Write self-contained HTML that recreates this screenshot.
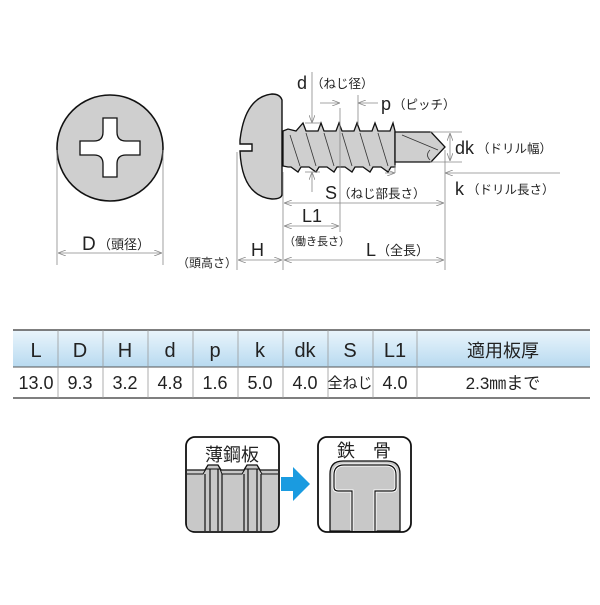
<!DOCTYPE html>
<html><head><meta charset="utf-8"><style>
body{margin:0;background:#fff}
svg text{font-family:"Liberation Sans","Noto Sans CJK JP",sans-serif;fill:#222}
</style></head><body>
<svg width="600" height="600" viewBox="0 0 600 600" xmlns="http://www.w3.org/2000/svg">
<defs>
<marker id="a" markerWidth="8" markerHeight="6" refX="8" refY="3" orient="auto-start-reverse" markerUnits="userSpaceOnUse"><path d="M0,0 L8,3 L0,6" fill="none" stroke="#888" stroke-width="0.8"/></marker>
<linearGradient id="hg" x1="0" y1="0" x2="0" y2="1"><stop offset="0" stop-color="#eaf5fc"/><stop offset="1" stop-color="#b8daf0"/></linearGradient>
</defs>
<circle cx="110" cy="148" r="53" fill="#cfcfcf" stroke="#111" stroke-width="1.6"/>
<path d="M103,118 H117 V132 Q117,141 126,141 H140 V155 H126 Q117,155 117,164 V177 H103 V164 Q103,155 94,155 H80 V141 H94 Q103,141 103,132 Z" fill="#fff" stroke="#111" stroke-width="1.3"/>
<g stroke="#888" stroke-width="0.8" fill="none">
<line x1="57" y1="150" x2="57" y2="265"/><line x1="163" y1="150" x2="163" y2="265"/>
<line x1="58" y1="253" x2="162" y2="253" marker-start="url(#a)" marker-end="url(#a)"/>
</g>
<text x="82" y="250" font-size="19">D</text><text x="98" y="249" font-size="13">（頭径）</text>
<path d="M282,100 Q280,94 272,94 Q245,97 240,140 L240,144 L252,144 L252,151 L240,151 Q242,196 272,199 Q282,199 282,194 Z" fill="#cfcfcf" stroke="#111" stroke-width="1.4"/>
<path d="M283,131 L288,129 L296,131 L303,123 L306,131 L318,131 L321,123 L324,131 L336,131 L339,123 L342,131 L354,131 L357,123 L360,131 L372,131 L375,123 L378,131 L390,131 L393,123 L395,131 L395,167 L391,167 L388,172 L381,167 L373,167 L370,172 L363,167 L355,167 L352,172 L345,167 L337,167 L334,172 L327,167 L319,167 L316,172 L309,167 L301,167 L298,172 L291,167 L288,167 L283,166 Z" fill="#cfcfcf" stroke="#111" stroke-width="1.3"/>
<g stroke="#333" stroke-width="0.8">
<line x1="290" y1="135" x2="300" y2="166"/><line x1="306" y1="133" x2="316" y2="166"/><line x1="324" y1="133" x2="334" y2="166"/><line x1="342" y1="133" x2="352" y2="166"/><line x1="360" y1="133" x2="370" y2="166"/><line x1="378" y1="133" x2="388" y2="166"/>
</g>
<path d="M395,132 L431,132 L445,147 L431,162 L395,162 Z" fill="#cfcfcf" stroke="#111" stroke-width="1.3"/>
<path d="M402,135 L438,150 M430,150 Q425,155 430,160" fill="none" stroke="#333" stroke-width="0.8"/>
<g stroke="#888" stroke-width="0.8" fill="none">
<line x1="237" y1="152" x2="237" y2="270"/>
<line x1="283" y1="172" x2="283" y2="270"/>
<line x1="445" y1="150" x2="445" y2="270"/>
<line x1="340" y1="108" x2="340" y2="232"/>
<line x1="358" y1="95" x2="358" y2="125"/>
<line x1="312" y1="72" x2="312" y2="123" marker-end="url(#a)"/>
<line x1="312" y1="192" x2="312" y2="172" marker-end="url(#a)"/>
<line x1="305" y1="123" x2="320" y2="123"/><line x1="305" y1="172" x2="320" y2="172"/>
<line x1="320" y1="103" x2="340" y2="103" marker-end="url(#a)"/>
<line x1="378" y1="103" x2="358" y2="103" marker-end="url(#a)"/>
<line x1="430" y1="132" x2="462" y2="132"/><line x1="430" y1="162" x2="462" y2="162"/>
<line x1="450" y1="133" x2="450" y2="161" marker-start="url(#a)" marker-end="url(#a)"/>
<line x1="385" y1="173" x2="395" y2="173" marker-end="url(#a)"/>
<line x1="395" y1="173" x2="395" y2="165"/>
<line x1="560" y1="173" x2="445" y2="173" marker-end="url(#a)"/>
<line x1="284" y1="203" x2="444" y2="203" marker-start="url(#a)" marker-end="url(#a)"/>
<line x1="284" y1="226" x2="339" y2="226" marker-start="url(#a)" marker-end="url(#a)"/>
<line x1="238" y1="260" x2="282" y2="260" marker-start="url(#a)" marker-end="url(#a)"/>
<line x1="284" y1="260" x2="444" y2="260" marker-start="url(#a)" marker-end="url(#a)"/>
</g>
<text x="297" y="89" font-size="18">d</text><text x="311" y="88" font-size="12.5">（ねじ径）</text>
<text x="381" y="110" font-size="18">p</text><text x="393" y="109" font-size="12.5">（ピッチ）</text>
<text x="455" y="154" font-size="18">dk</text><text x="477" y="153" font-size="12.5">（ドリル幅）</text>
<text x="455" y="195" font-size="18">k</text><text x="467" y="194" font-size="12.5">（ドリル長さ）</text>
<text x="325" y="199" font-size="18">S</text><text x="338" y="198" font-size="12.5">（ねじ部長さ）</text>
<text x="302" y="222" font-size="18">L1</text>
<text x="284" y="245" font-size="11">（働き長さ）</text>
<text x="251" y="256" font-size="18">H</text>
<text x="366" y="256" font-size="18">L</text><text x="377" y="255" font-size="13">（全長）</text>
<text x="177" y="267" font-size="12">（頭高さ）</text>
<rect x="13" y="330" width="577" height="37" fill="url(#hg)"/>
<g stroke="#555" stroke-width="1">
<line x1="13" y1="330" x2="590" y2="330" stroke-width="1.5"/><line x1="13" y1="367" x2="590" y2="367"/><line x1="13" y1="398" x2="590" y2="398" stroke-width="1.5"/>
</g>
<g stroke="#999" stroke-width="0.8">
<line x1="58" y1="330" x2="58" y2="398"/><line x1="103" y1="330" x2="103" y2="398"/><line x1="148" y1="330" x2="148" y2="398"/><line x1="193" y1="330" x2="193" y2="398"/><line x1="238" y1="330" x2="238" y2="398"/><line x1="283" y1="330" x2="283" y2="398"/><line x1="328" y1="330" x2="328" y2="398"/><line x1="373" y1="330" x2="373" y2="398"/><line x1="417" y1="330" x2="417" y2="398"/>
</g>
<g font-size="20" text-anchor="middle">
<text x="36" y="357">L</text><text x="80" y="357">D</text><text x="125" y="357">H</text><text x="170" y="357">d</text><text x="215" y="357">p</text><text x="260" y="357">k</text><text x="305" y="357">dk</text><text x="350" y="357">S</text><text x="395" y="357">L1</text><text x="503" y="357" font-size="18">適用板厚</text>
</g>
<g font-size="18" text-anchor="middle">
<text x="36" y="389">13.0</text><text x="80" y="389">9.3</text><text x="125" y="389">3.2</text><text x="170" y="389">4.8</text><text x="215" y="389">1.6</text><text x="260" y="389">5.0</text><text x="305" y="389">4.0</text><text x="350" y="388" font-size="15">全ねじ</text><text x="395" y="389">4.0</text><text x="503" y="389" font-size="17">2.3㎜まで</text>
</g>
<rect x="186" y="437" width="93" height="95" rx="9" fill="#fff" stroke="#111" stroke-width="1.8"/>
<path d="M187,475 L187,470 L205,470 L208,465 L218,465 L221,470 L244,470 L247,465 L257,465 L260,470 L278,470 L278,524 Q278,531 270,531 L195,531 Q187,531 187,524 Z" fill="#c8c8c8"/>
<path d="M187,470 L205,470 L208,465 L218,465 L221,470 L244,470 L247,465 L257,465 L260,470 L278,470" fill="none" stroke="#111" stroke-width="1.3"/>
<path d="M187,474 L203,474 L206,469 L220,469 L222,474 L242,474 L245,469 L259,469 L262,474 L278,474" fill="none" stroke="#111" stroke-width="1"/>
<g stroke="#111" stroke-width="1.2"><line x1="205" y1="474" x2="205" y2="531"/><line x1="210" y1="469" x2="210" y2="531"/><line x1="218" y1="469" x2="218" y2="531"/><line x1="222" y1="474" x2="222" y2="531"/><line x1="244" y1="474" x2="244" y2="531"/><line x1="248" y1="469" x2="248" y2="531"/><line x1="257" y1="469" x2="257" y2="531"/><line x1="261" y1="474" x2="261" y2="531"/></g>
<text x="232" y="461" font-size="18" text-anchor="middle">薄鋼板</text>
<path d="M281,477 L293,477 L293,467 L310,484 L293,501 L293,491 L281,491 Z" fill="#1a9be0"/>
<rect x="318" y="437" width="93" height="95" rx="9" fill="#fff" stroke="#111" stroke-width="1.8"/>
<path d="M330,531 L330,474 Q330,461 343,461 L387,461 Q400,461 400,474 L400,531 Z" fill="#c8c8c8" stroke="#111" stroke-width="1.3"/>
<path d="M352,531 V491 H338 Q334,491 334,487 V475 Q334,465 344,465 H386 Q396,465 396,475 V487 Q396,491 392,491 H375 V531" fill="#c8c8c8" stroke="#fff" stroke-width="3"/>
<path d="M352,531 V491 H338 Q334,491 334,487 V475 Q334,465 344,465 H386 Q396,465 396,475 V487 Q396,491 392,491 H375 V531" fill="none" stroke="#111" stroke-width="1.2"/>
<text x="364" y="457" font-size="18" text-anchor="middle">鉄　骨</text>
</svg>
</body></html>
